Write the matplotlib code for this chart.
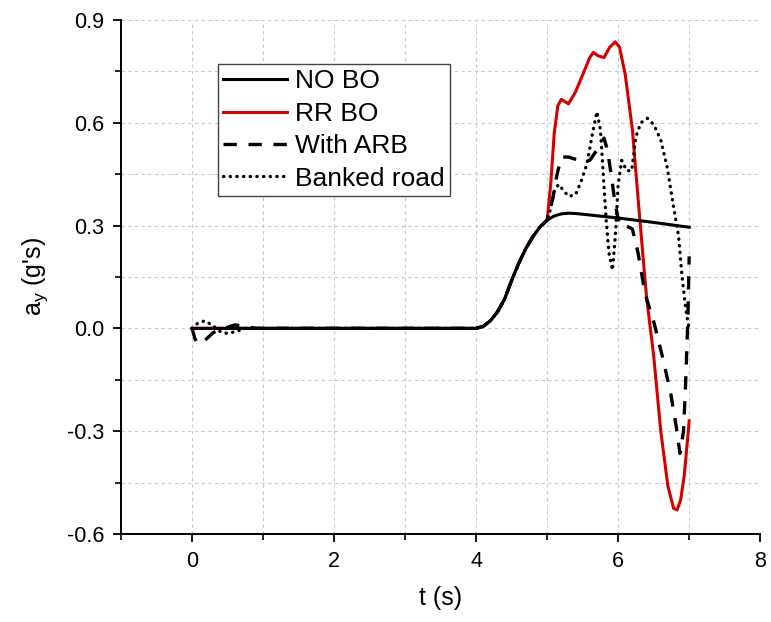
import numpy as np
import matplotlib
matplotlib.use("Agg")
import matplotlib.pyplot as plt
from matplotlib.ticker import MultipleLocator

plt.rcParams["font.family"] = ["Liberation Sans", "DejaVu Sans"]
plt.rcParams["mathtext.fontset"] = "custom"
plt.rcParams["mathtext.rm"] = "Liberation Sans"
plt.rcParams["mathtext.default"] = "regular"

# ── data ─────────────────────────────────────────────────────────────────────
# shared rise section (all four cases overlap here)
rise_t = [4.0, 4.1, 4.2, 4.3, 4.4, 4.5, 4.6, 4.7, 4.8, 4.9, 5.0]
rise_y = [0.0, 0.006, 0.022, 0.048, 0.085, 0.14, 0.19, 0.233, 0.268, 0.296, 0.316]

no_bo_t = [0.0, 3.9] + rise_t + [5.1, 5.2, 5.3, 5.4, 5.5, 6.0, 6.5, 7.0]
no_bo_y = [0.0, 0.0] + rise_y + [0.328, 0.334, 0.336, 0.335, 0.333, 0.322, 0.309, 0.295]

rr_bo_t = [0.0, 3.9] + rise_t + [5.05, 5.1, 5.15, 5.2, 5.3, 5.4, 5.5, 5.6, 5.65,
                                 5.72, 5.8, 5.88, 5.96, 6.02, 6.1, 6.2, 6.3, 6.4,
                                 6.5, 6.6, 6.7, 6.78, 6.83, 6.88, 6.93, 6.97, 7.0]
rr_bo_y = [0.0, 0.0] + rise_y + [0.42, 0.57, 0.65, 0.668, 0.655, 0.69, 0.74, 0.79,
                                 0.805, 0.795, 0.79, 0.82, 0.836, 0.82, 0.74, 0.58,
                                 0.33, 0.09, -0.08, -0.30, -0.46, -0.525, -0.53,
                                 -0.5, -0.43, -0.34, -0.27]

arb_t = [0.0, 0.04, 0.08, 0.18, 0.3, 0.45, 0.6, 0.75, 0.9, 3.9] + rise_t + [
    5.08, 5.14, 5.2, 5.3, 5.45, 5.6, 5.7, 5.8, 5.85, 5.9, 5.96, 6.02, 6.1, 6.2,
    6.28, 6.38, 6.5, 6.62, 6.74, 6.82, 6.87, 6.92, 6.95, 6.98, 7.0]
arb_y = [0.0, -0.03, -0.045, -0.035, -0.012, 0.0, 0.01, 0.006, 0.0, 0.0] + rise_y + [
    0.38, 0.45, 0.5, 0.5, 0.49, 0.49, 0.52, 0.555, 0.52, 0.45, 0.36, 0.30, 0.30,
    0.29, 0.22, 0.1, 0.02, -0.08, -0.19, -0.29, -0.365, -0.3, -0.16, 0.02, 0.21]

banked_t = [0.0, 0.08, 0.18, 0.28, 0.4, 0.5, 0.6, 0.75, 0.9, 3.9] + rise_t + [
    5.05, 5.1, 5.16, 5.22, 5.3, 5.4, 5.48, 5.56, 5.64, 5.7, 5.75, 5.79, 5.83,
    5.87, 5.92, 5.96, 6.0, 6.05, 6.12, 6.19, 6.25, 6.32, 6.41, 6.5, 6.6, 6.69,
    6.78, 6.85, 6.9, 6.95, 6.98, 7.0]
banked_y = [0.0, 0.015, 0.022, 0.01, -0.01, -0.015, -0.01, 0.0, 0.0, 0.0] + rise_y + [
    0.35, 0.40, 0.42, 0.405, 0.385, 0.39, 0.43, 0.48, 0.57, 0.632, 0.58, 0.45,
    0.32, 0.22, 0.17, 0.27, 0.42, 0.49, 0.46, 0.46, 0.56, 0.60, 0.613, 0.595,
    0.55, 0.47, 0.355, 0.27, 0.15, 0.06, 0.02, 0.0]

# ── plot ─────────────────────────────────────────────────────────────────────
fig = plt.figure(figsize=(7.71, 6.22), dpi=100)
ax = fig.add_axes([0.157, 0.1415, 0.829, 0.8265])

grid_kw = dict(color="#c8c8c8", linestyle=(0, (3, 3)), linewidth=0.8)
ax.grid(True, which="both", **grid_kw)
ax.set_axisbelow(True)

ax.plot(no_bo_t, no_bo_y, color="black", lw=2.2, label="NO BO", zorder=3)
ax.plot(rr_bo_t, rr_bo_y, color="#d40000", lw=2.2, label="RR BO", zorder=2)
ax.plot(arb_t, arb_y, color="black", lw=2.4, linestyle=(0, (4, 3.5)),
        label="With ARB", zorder=4)
ax.plot(banked_t, banked_y, color="black", lw=2.4, linestyle=(0, (0.1, 1.9)),
        dash_capstyle="round", label="Banked road", zorder=5)

ax.set_xlim(-1, 8)
ax.set_ylim(-0.6, 0.9)
ax.xaxis.set_major_locator(MultipleLocator(2))
ax.xaxis.set_minor_locator(MultipleLocator(1))
ax.yaxis.set_major_locator(MultipleLocator(0.3))
ax.yaxis.set_minor_locator(MultipleLocator(0.15))
ax.yaxis.set_major_formatter(matplotlib.ticker.FormatStrFormatter("%.1f"))

ax.tick_params(which="major", direction="out", length=6, width=1.3,
               labelsize=15.5, pad=6)
ax.tick_params(which="minor", direction="out", length=4, width=1.2)
for s in ["top", "right"]:
    ax.spines[s].set_visible(False)
for s in ["left", "bottom"]:
    ax.spines[s].set_linewidth(1.4)

ax.set_xlabel("t (s)", fontsize=18, labelpad=10)
ax.set_ylabel("a$_y$ (g's)", fontsize=18, labelpad=12)

leg = ax.legend(loc="upper left", bbox_to_anchor=(0.152, 0.914),
                borderaxespad=0, fancybox=False, framealpha=1,
                edgecolor="#444444", fontsize=19, handlelength=2.4,
                handletextpad=0.3, labelspacing=0.32, borderpad=0.2)
leg.get_frame().set_linewidth(1.0)

fig.savefig("out.png", dpi=100)
